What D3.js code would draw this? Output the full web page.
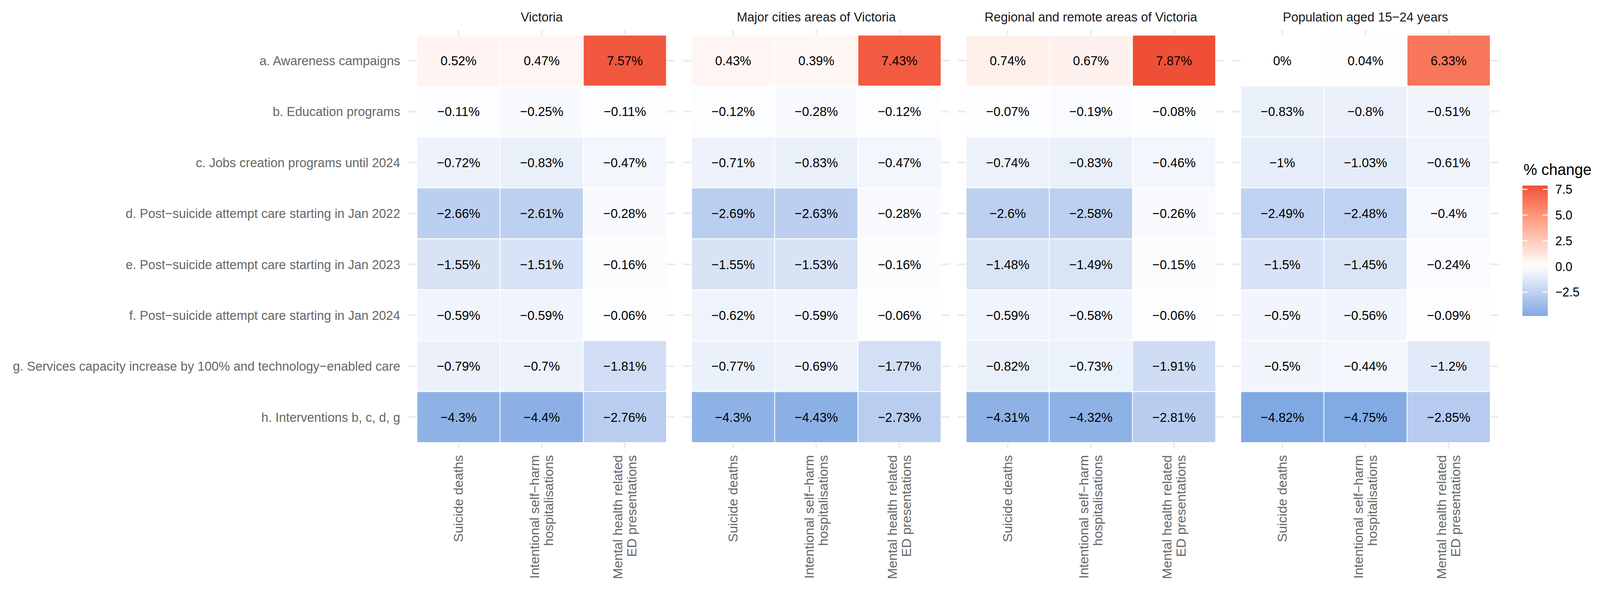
<!DOCTYPE html>
<html>
<head>
<meta charset="utf-8">
<script src="https://cdn.jsdelivr.net/npm/d3@7"></script>
<style>
  html, body { margin: 0; padding: 0; background: #fff; overflow: hidden; }
  svg { display: block; }
  text { font-family: "Liberation Sans", Arial, Helvetica, sans-serif; }
</style>
</head>
<body>
<svg id="chart"></svg>
<script>
// data
var regions = ["Victoria", "Major cities areas of Victoria", "Regional and remote areas of Victoria", "Population aged 15\u221224 years"];
var measures = ["Suicide deaths", "Intentional self\u2212harm\nhospitalisations", "Mental health related\nED presentations"];
var interventions = [
  "a. Awareness campaigns",
  "b. Education programs",
  "c. Jobs creation programs until 2024",
  "d. Post\u2212suicide attempt care starting in Jan 2022",
  "e. Post\u2212suicide attempt care starting in Jan 2023",
  "f. Post\u2212suicide attempt care starting in Jan 2024",
  "g. Services capacity increase by 100% and technology\u2212enabled care",
  "h. Interventions b, c, d, g"
];
// each row: [suicide deaths, self-harm hospitalisations, ED presentations]
var victoria = [
  [0.52, 0.47, 7.57], [-0.11, -0.25, -0.11], [-0.72, -0.83, -0.47], [-2.66, -2.61, -0.28],
  [-1.55, -1.51, -0.16], [-0.59, -0.59, -0.06], [-0.79, -0.7, -1.81], [-4.3, -4.4, -2.76]
];
var majorCities = [
  [0.43, 0.39, 7.43], [-0.12, -0.28, -0.12], [-0.71, -0.83, -0.47], [-2.69, -2.63, -0.28],
  [-1.55, -1.53, -0.16], [-0.62, -0.59, -0.06], [-0.77, -0.69, -1.77], [-4.3, -4.43, -2.73]
];
var regional = [
  [0.74, 0.67, 7.87], [-0.07, -0.19, -0.08], [-0.74, -0.83, -0.46], [-2.6, -2.58, -0.26],
  [-1.48, -1.49, -0.15], [-0.59, -0.58, -0.06], [-0.82, -0.73, -1.91], [-4.31, -4.32, -2.81]
];
var youth = [
  [0, 0.04, 6.33], [-0.83, -0.8, -0.51], [-1, -1.03, -0.61], [-2.49, -2.48, -0.4],
  [-1.5, -1.45, -0.24], [-0.5, -0.56, -0.09], [-0.5, -0.44, -1.2], [-4.82, -4.75, -2.85]
];
var legendTicks = [7.5, 5, 2.5, 0, -2.5];
var legendLabels = ["7.5", "5.0", "2.5", "0.0", "\u22122.5"];

var seriesByRegion = [victoria, majorCities, regional, youth];

var cells = [];
seriesByRegion.forEach(function(rows, r) {
  rows.forEach(function(row, i) {
    row.forEach(function(v, m) {
      cells.push({region: regions[r], intervention: interventions[i], measure: measures[m], value: v});
    });
  });
});

var width = 4290, height = 1513;
var margin = {top: 77, left: 1095.7, right: 272, bottom: 367};
var panelGap = 22.7;
var panelW = (width - margin.left - margin.right - panelGap * 3) / 4;

// the window may be narrower than the chart, so draw in chart units and fit to it
var vw = window.innerWidth || width, vh = window.innerHeight || height;
var svg = d3.select("#chart")
  .attr("width", vw).attr("height", vh)
  .attr("viewBox", "0 0 " + width + " " + height)
  .attr("preserveAspectRatio", "none");

var fx = d3.scaleBand().domain(regions)
  .range([margin.left, width - margin.right])
  .paddingInner(panelGap / (panelW + panelGap));
var x = d3.scaleBand().domain(measures).range([0, panelW]).paddingOuter(0.1);
var y = d3.scaleBand().domain(interventions).range([margin.top, height - margin.bottom]).paddingOuter(0.1);

var vmin = d3.min(cells, function(d) { return d.value; });
var vmax = d3.max(cells, function(d) { return d.value; });
var color = d3.scaleLinear().domain([vmin, 0, vmax])
  .range(["#80a9e3", "#ffffff", "#ef4f37"])
  .interpolate(d3.interpolateLab);

var fmt = function(v) { return String(v).replace("-", "\u2212") + "%"; };

var panels = svg.selectAll(".panel").data(regions).enter().append("g")
  .attr("class", "panel")
  .attr("transform", function(d) { return "translate(" + fx(d) + ",0)"; });

// grid
panels.selectAll(".hgrid").data(interventions).enter().append("line")
  .attr("x1", 0).attr("x2", panelW)
  .attr("y1", function(d) { return y(d) + y.bandwidth() / 2; })
  .attr("y2", function(d) { return y(d) + y.bandwidth() / 2; })
  .attr("stroke", "#ebebeb").attr("stroke-width", 4.5);
panels.selectAll(".vgrid").data(measures).enter().append("line")
  .attr("x1", function(d) { return x(d) + x.bandwidth() / 2; })
  .attr("x2", function(d) { return x(d) + x.bandwidth() / 2; })
  .attr("y1", margin.top).attr("y2", height - margin.bottom)
  .attr("stroke", "#ebebeb").attr("stroke-width", 4.5);

// strip titles
panels.append("text")
  .attr("x", panelW / 2).attr("y", 55)
  .attr("text-anchor", "middle")
  .style("font-size", "34px").style("fill", "#1a1a1a")
  .text(function(d) { return d; });

// tiles
panels.each(function(reg) {
  var g = d3.select(this);
  var data = cells.filter(function(c) { return c.region === reg; });
  g.selectAll(".tile").data(data).enter().append("rect")
    .attr("class", "tile")
    .attr("x", function(d) { return x(d.measure); })
    .attr("y", function(d) { return y(d.intervention); })
    .attr("width", x.bandwidth())
    .attr("height", y.bandwidth())
    .attr("fill", function(d) { return color(d.value); })
    .attr("stroke", "#ffffff").attr("stroke-width", 2);
  g.selectAll(".lbl").data(data).enter().append("text")
    .attr("x", function(d) { return x(d.measure) + x.bandwidth() / 2; })
    .attr("y", function(d) { return y(d.intervention) + y.bandwidth() / 2; })
    .attr("dy", "0.35em")
    .attr("text-anchor", "middle")
    .style("font-size", "34px").style("fill", "#000")
    .text(function(d) { return fmt(d.value); });

  // bottom axis labels
  g.selectAll(".xl").data(measures).enter().append("text")
    .attr("transform", function(d) {
      return "translate(" + (x(d) + x.bandwidth() / 2) + "," + (height - margin.bottom + 19) + ") rotate(-90)";
    })
    .attr("text-anchor", "end")
    .style("font-size", "34px").style("fill", "#666")
    .each(function(d) {
      var lines = d.split("\n");
      var t = d3.select(this);
      lines.forEach(function(line, i) {
        var off = 0.35 + (i - (lines.length - 1) / 2) * 1.1;
        t.append("tspan").attr("x", 0).attr("y", 0).attr("dy", off + "em").text(line);
      });
    });
});

// y axis labels
svg.append("g").selectAll("text").data(interventions).enter().append("text")
  .attr("x", margin.left - 22.7)
  .attr("y", function(d) { return y(d) + y.bandwidth() / 2; })
  .attr("dy", "0.35em")
  .attr("text-anchor", "end")
  .style("font-size", "34px").style("fill", "#666")
  .text(function(d) { return d; });

// legend
var lgX = 4082, lgW = 68, lgTop = 475, lgBottom = 809;
var ly = d3.scaleLinear().domain([vmin, vmax]).range([lgBottom, lgTop]);
var grad = svg.append("defs").append("linearGradient")
  .attr("id", "lg").attr("x1", 0).attr("x2", 0).attr("y1", 1).attr("y2", 0);
d3.range(0, 1.0001, 0.05).forEach(function(t) {
  var v = vmin + t * (vmax - vmin);
  grad.append("stop").attr("offset", t).attr("stop-color", color(v));
});
svg.append("text")
  .attr("x", 4085).attr("y", 448)
  .style("font-size", "41px").style("fill", "#000")
  .text("% change");
svg.append("rect")
  .attr("x", lgX).attr("y", lgTop).attr("width", lgW).attr("height", lgBottom - lgTop)
  .attr("fill", "url(#lg)");
legendTicks.forEach(function(v, i) {
  [[lgX, lgX + 14], [lgX + lgW - 14, lgX + lgW]].forEach(function(s) {
    svg.append("line")
      .attr("x1", s[0]).attr("x2", s[1])
      .attr("y1", ly(v)).attr("y2", ly(v))
      .attr("stroke", "#fff").attr("stroke-width", 2.5);
  });
  svg.append("text")
    .attr("x", 4170).attr("y", ly(v)).attr("dy", "0.35em")
    .style("font-size", "33px").style("fill", "#000")
    .text(legendLabels[i]);
});
</script>
</body>
</html>
